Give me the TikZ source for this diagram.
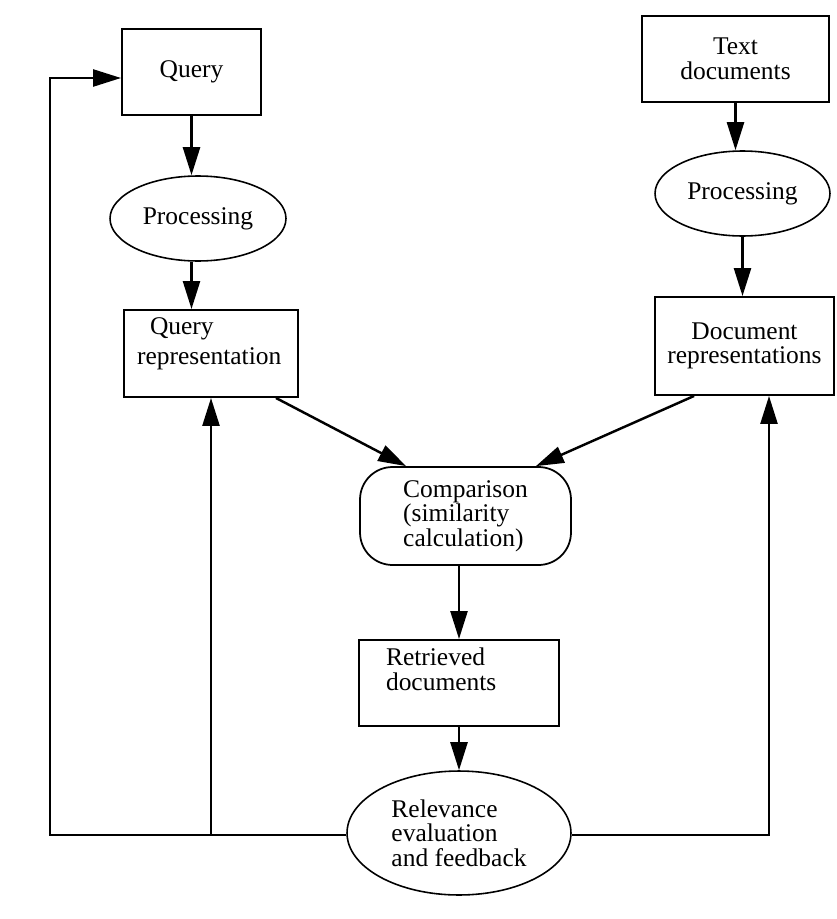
\documentclass[tikz,border=0pt]{standalone}
\usepackage{fontspec}
\setmainfont{Liberation Serif}
\usepackage{tikz}
\usetikzlibrary{arrows.meta,positioning,shapes.geometric,calc}

\begin{document}
\begin{tikzpicture}[
  x=0.02cm, y=-0.02cm,
  every node/.style={font=\fontsize{14.5}{14}\selectfont},
  box/.style={draw, line width=1.1pt, align=center, inner sep=0pt},
  oval/.style={draw, ellipse, line width=0.9pt, align=center, inner sep=0pt},
  roundbox/.style={draw, rounded corners=0.65cm, line width=1pt, align=left, inner sep=0pt, minimum width=4.22cm, minimum height=1.96cm},
  arrow/.style={-{Triangle[length=0.56cm,width=0.34cm]}, line width=1.4pt}
]
  \useasboundingbox (0,0) rectangle (836,919);

  % query side
  \node[box, minimum width=2.78cm, minimum height=1.72cm] (query) at (191.5,72) {Query};
  \node[oval, minimum width=3.52cm, minimum height=1.70cm] (qproc) at (198,218.5) {Processing};
  \node[box, minimum width=3.48cm, minimum height=1.74cm] (qrep) at (211,353.5)
    {\parbox[c][1.42cm][t]{2.96cm}{\raggedright\hspace*{0.26cm}Query\\[0.1cm]representation}};

  % document side
  \node[box, minimum width=3.74cm, minimum height=1.72cm] (tdoc) at (735.5,59) {Text\\documents};
  \node[oval, minimum width=3.50cm, minimum height=1.70cm] (dproc) at (742.5,193.5) {Processing};
  \node[box, minimum width=3.58cm, minimum height=1.96cm] (drep) at (744.5,346) {Document\\representations};

  % matching and feedback
  \node[roundbox] (comp) at (465.5,516) {Comparison\\(similarity\\calculation)};
  \node[box, minimum width=4cm, minimum height=1.72cm] (retr) at (459,683)
    {\parbox[c][1.4cm][t]{2.92cm}{\raggedright Retrieved\\documents}};
  \node[oval, align=left, minimum width=4.48cm, minimum height=2.48cm] (relev) at (459,833) {Relevance\\evaluation\\and feedback};

  \coordinate (fbl) at (50,835);
  \coordinate (fbtop) at (50,78);
  \coordinate (fbr) at (769,835);

  \draw[arrow] (query.south) -- (query.south |- qproc.north);
  \draw[arrow] (qproc.south -| query.south) -- (query.south |- qrep.north);
  \draw[arrow] (tdoc.south) -- (tdoc.south |- dproc.north);
  \draw[arrow] (dproc.south) -- (dproc.south |- drep.north);
  \draw[arrow] ([xshift=-0.46cm]qrep.south east) -- ([xshift=0.94cm]comp.north west);
  \draw[arrow] ([xshift=0.8cm]drep.south west) -- ([xshift=-0.72cm]comp.north east);
  \draw[arrow] (retr.north |- comp.south) -- (retr.north);
  \draw[arrow] (retr.south) -- (relev.north);

  % feedback loops
  \draw[arrow] (relev.west |- fbl) -- (fbl) -- (fbtop) -- (fbtop -| query.west);
  \draw[arrow] (qrep.south |- fbl) -- (qrep.south);
  \draw[arrow] (relev.east |- fbr) -- (fbr) -- (fbr |- drep.south);
\end{tikzpicture}
\end{document}
